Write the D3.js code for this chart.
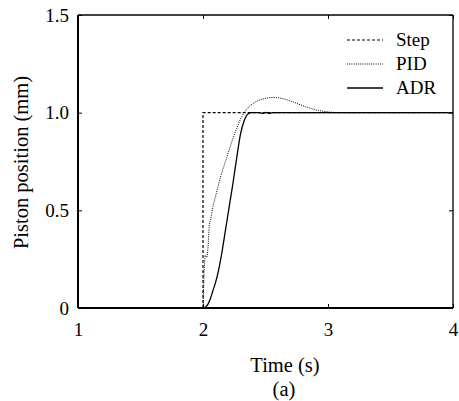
<!DOCTYPE html>
<html>
<head>
<meta charset="utf-8">
<script src="https://cdn.jsdelivr.net/npm/d3@7"></script>
<style>
  body { margin: 0; background: #fff; }
</style>
</head>
<body>
<div id="chart"></div>
<script>
  'use strict';

  // step reference
  var stepTime = [1, 2, 2, 4];
  var stepPos = [0, 0, 1, 1];

  // PID response
  var pidTime = [1, 2.0, 2.005, 2.01, 2.02, 2.03, 2.04, 2.05, 2.06, 2.08, 2.1, 2.14, 2.19, 2.23, 2.27, 2.31, 2.36, 2.42, 2.48, 2.56, 2.63, 2.7, 2.78, 2.85, 2.92, 3.0, 3.1, 3.5, 4];
  var pidPos = [0, 0, 0.1, 0.2, 0.27, 0.26, 0.31, 0.42, 0.45, 0.52, 0.57, 0.67, 0.77, 0.85, 0.92, 0.98, 1.025, 1.055, 1.07, 1.078, 1.073, 1.06, 1.04, 1.024, 1.012, 1.004, 1.0, 1.0, 1.0];

  // ADR response
  var adrTime = [1, 2.0, 2.02, 2.04, 2.06, 2.08, 2.1, 2.12, 2.15, 2.18, 2.21, 2.24, 2.27, 2.3, 2.33, 2.36, 2.39, 2.45, 2.48, 2.5, 2.53, 2.56, 2.7, 4];
  var adrPos = [0, 0, 0.005, 0.02, 0.05, 0.09, 0.13, 0.18, 0.28, 0.4, 0.52, 0.64, 0.77, 0.89, 0.96, 0.993, 1.0, 1.0, 0.996, 1.002, 0.996, 1.0, 1.0, 1.0];

  var xTicks = [1, 2, 3, 4];
  var yTicks = [0, 0.5, 1.0, 1.5];
  var yTickLabels = ['0', '0.5', '1.0', '1.5'];
  var seriesNames = ['Step', 'PID', 'ADR'];

  var width = 459, height = 401;
  var margin = { top: 15, right: 6, bottom: 93, left: 78 };
  var w = width - margin.left - margin.right;
  var h = height - margin.top - margin.bottom;

  var serif = '"Liberation Serif"';
  var fontSize = '19px';
  var titleSize = '20.5px';

  var svg = d3.select('#chart').append('svg')
    .attr('width', width)
    .attr('height', height);

  var g = svg.append('g')
    .attr('transform', 'translate(' + margin.left + ',' + margin.top + ')');

  var x = d3.scaleLinear().domain([1, 4]).range([0, w]);
  var y = d3.scaleLinear().domain([0, 1.5]).range([h, 0]);

  // axes, ticks pointing inward
  var xAxis = d3.axisBottom(x).tickValues(xTicks).tickFormat(d3.format('d'))
    .tickSizeInner(-4).tickSizeOuter(0).tickPadding(15);
  var yAxis = d3.axisLeft(y).tickValues(yTicks)
    .tickFormat(function(d, i) { return yTickLabels[i]; })
    .tickSizeInner(-4).tickSizeOuter(0).tickPadding(9);

  g.append('g')
    .attr('transform', 'translate(0,' + h + ')')
    .call(xAxis)
    .call(function(s) { s.select('.domain').remove(); })
    .selectAll('text')
      .style('font-family', serif)
      .style('font-size', fontSize)
      .attr('fill', '#000');

  g.append('g')
    .call(yAxis)
    .call(function(s) { s.select('.domain').remove(); })
    .selectAll('text')
      .style('font-family', serif)
      .style('font-size', fontSize)
      .attr('fill', '#000');

  // top and right ticks, no labels
  g.append('g')
    .call(d3.axisTop(x).tickValues(xTicks).tickSizeInner(-4).tickSizeOuter(0).tickFormat(''))
    .call(function(s) { s.select('.domain').remove(); });
  g.append('g')
    .attr('transform', 'translate(' + w + ',0)')
    .call(d3.axisRight(y).tickValues(yTicks).tickSizeInner(-4).tickSizeOuter(0).tickFormat(''))
    .call(function(s) { s.select('.domain').remove(); });

  // lines
  var lineLinear = d3.line()
    .x(function(d) { return x(d[0]); })
    .y(function(d) { return y(d[1]); });
  var lineSmooth = d3.line()
    .x(function(d) { return x(d[0]); })
    .y(function(d) { return y(d[1]); })
    .curve(d3.curveMonotoneX);

  var styles = {
    Step: { dash: '3,2', width: 1.2 },
    PID: { dash: '1,1.2', width: 1 },
    ADR: { dash: null, width: 1.3 }
  };

  g.append('path')
    .datum(d3.zip(stepTime, stepPos))
    .attr('d', lineLinear)
    .attr('fill', 'none').attr('stroke', '#000')
    .attr('stroke-width', styles.Step.width)
    .attr('stroke-dasharray', styles.Step.dash);

  g.append('path')
    .datum(d3.zip(pidTime, pidPos))
    .attr('d', lineSmooth)
    .attr('fill', 'none').attr('stroke', '#000')
    .attr('stroke-width', styles.PID.width)
    .attr('stroke-dasharray', styles.PID.dash);

  g.append('path')
    .datum(d3.zip(adrTime, adrPos))
    .attr('d', lineSmooth)
    .attr('fill', 'none').attr('stroke', '#000')
    .attr('stroke-width', styles.ADR.width);

  // frame: left/bottom heavier than top/right
  g.append('line').attr('x1', 0).attr('x2', 0).attr('y1', 0).attr('y2', h)
    .attr('stroke', '#000').attr('stroke-width', 2);
  g.append('line').attr('x1', 0).attr('x2', w).attr('y1', h).attr('y2', h)
    .attr('stroke', '#000').attr('stroke-width', 2);
  g.append('line').attr('x1', 0).attr('x2', w).attr('y1', 0).attr('y2', 0)
    .attr('stroke', '#000').attr('stroke-width', 1.3);
  g.append('line').attr('x1', w).attr('x2', w).attr('y1', 0).attr('y2', h)
    .attr('stroke', '#000').attr('stroke-width', 1.3);

  // legend
  var legend = svg.append('g').attr('transform', 'translate(347,40)');
  seriesNames.forEach(function(name, i) {
    var row = legend.append('g').attr('transform', 'translate(0,' + (i * 24) + ')');
    row.append('line')
      .attr('x1', 0).attr('x2', 36).attr('y1', 0).attr('y2', 0)
      .attr('stroke', '#000')
      .attr('stroke-width', name === 'ADR' ? 1.3 : 1)
      .attr('stroke-dasharray', styles[name].dash);
    row.append('text')
      .attr('x', 49).attr('y', 6)
      .style('font-family', serif)
      .style('font-size', fontSize)
      .text(name);
  });

  // axis titles
  svg.append('text')
    .attr('x', 285).attr('y', 372)
    .attr('text-anchor', 'middle')
    .style('font-family', serif)
    .style('font-size', titleSize)
    .text('Time (s)');
  svg.append('text')
    .attr('x', 284).attr('y', 396)
    .attr('text-anchor', 'middle')
    .style('font-family', serif)
    .style('font-size', titleSize)
    .text('(a)');
  svg.append('text')
    .attr('transform', 'translate(28,' + (margin.top + h / 2 + 1) + ') rotate(-90)')
    .attr('text-anchor', 'middle')
    .style('font-family', serif)
    .style('font-size', titleSize)
    .text('Piston position (mm)');
</script>
</body>
</html>
